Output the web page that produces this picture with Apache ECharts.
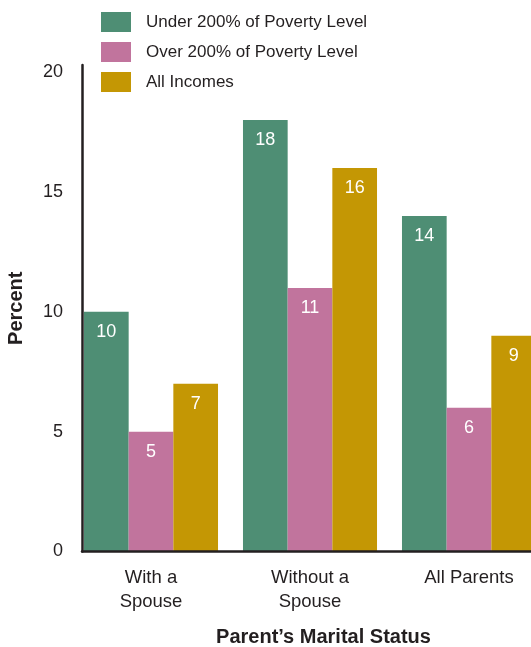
<!DOCTYPE html>
<html>
<head>
<meta charset="utf-8">
<script src="https://cdn.jsdelivr.net/npm/echarts@6/dist/echarts.min.js"></script>
<style>html,body{margin:0;padding:0;background:#fff;}#c{width:531px;height:647px;}</style>
</head>
<body>
<div id="c"></div>
<script>
const categories = ["With a\nSpouse", "Without a\nSpouse", "All Parents"];
const seriesNames = ["Under 200% of Poverty Level", "Over 200% of Poverty Level", "All Incomes"];
const under200 = [10, 18, 14];
const over200 = [5, 11, 6];
const allIncomes = [7, 16, 9];
const yTicks = [0, 5, 10, 15, 20];
const colors = ["#4E8E74", "#C1749D", "#C49704"];

const FONT = "Liberation Sans, Arial, Helvetica, sans-serif";
const TXT = "#231f20";
const Y_MAX = 20.3;
const GRID_TOP = 65, GRID_BOTTOM = 95.5;

const chart = echarts.init(document.getElementById('c'), null, {renderer: 'canvas'});
const values = [under200, over200, allIncomes];
const option = {
  animation: false,
  textStyle: {fontFamily: FONT},
  legend: {
    orient: 'vertical', left: 101, top: 12, padding: 0,
    itemWidth: 30, itemHeight: 20, itemGap: 10, icon: 'rect',
    data: seriesNames,
    textStyle: {fontSize: 17, color: TXT, fontFamily: FONT, padding: [0, 0, 0, 10]}
  },
  grid: [
    {left: 71.5, width: 477, top: GRID_TOP, bottom: GRID_BOTTOM, containLabel: false, outerBoundsMode: 'none'},
    {left: 82, right: 0, top: GRID_TOP, bottom: GRID_BOTTOM, containLabel: false, outerBoundsMode: 'none'}
  ],
  xAxis: [
    {
      type: 'category', gridIndex: 0, data: categories,
      axisLine: {show: false}, axisTick: {show: false},
      axisLabel: {fontSize: 18.5, color: TXT, lineHeight: 24, margin: 14, fontFamily: FONT, interval: 0},
      name: "Parent\u2019s Marital Status", nameLocation: 'middle', nameGap: 76,
      nameTextStyle: {fontSize: 20, fontWeight: 'bold', color: TXT, fontFamily: FONT, padding: [0, 0, 0, 27]}
    },
    {
      type: 'category', gridIndex: 1, data: categories, z: 5,
      axisLine: {show: true, lineStyle: {color: '#231f20', width: 2.5}},
      axisTick: {show: false}, axisLabel: {show: false}
    }
  ],
  yAxis: [
    {type: 'value', gridIndex: 0, min: 0, max: Y_MAX, show: false},
    {
      type: 'value', gridIndex: 1, min: 0, max: Y_MAX, interval: 5, z: 5,
      axisLine: {show: true, lineStyle: {color: '#231f20', width: 2.5}},
      axisTick: {show: false}, splitLine: {show: false},
      axisLabel: {
        fontSize: 18, color: TXT, margin: 19, fontFamily: FONT,
        formatter: v => yTicks.indexOf(v) >= 0 ? String(v) : ''
      },
      name: 'Percent', nameLocation: 'middle', nameGap: 56, nameRotate: 90,
      nameTextStyle: {fontSize: 20, fontWeight: 'bold', color: TXT, fontFamily: FONT}
    }
  ],
  series: seriesNames.map((n, i) => ({
    name: n, type: 'bar', xAxisIndex: 0, yAxisIndex: 0,
    data: values[i],
    barGap: '0%', barCategoryGap: '15.7%',
    itemStyle: {color: colors[i]},
    label: {show: true, position: 'insideTop', distance: 11, color: '#fff', fontSize: 18, fontFamily: FONT}
  }))
};
chart.setOption(option);
</script>
</body>
</html>
